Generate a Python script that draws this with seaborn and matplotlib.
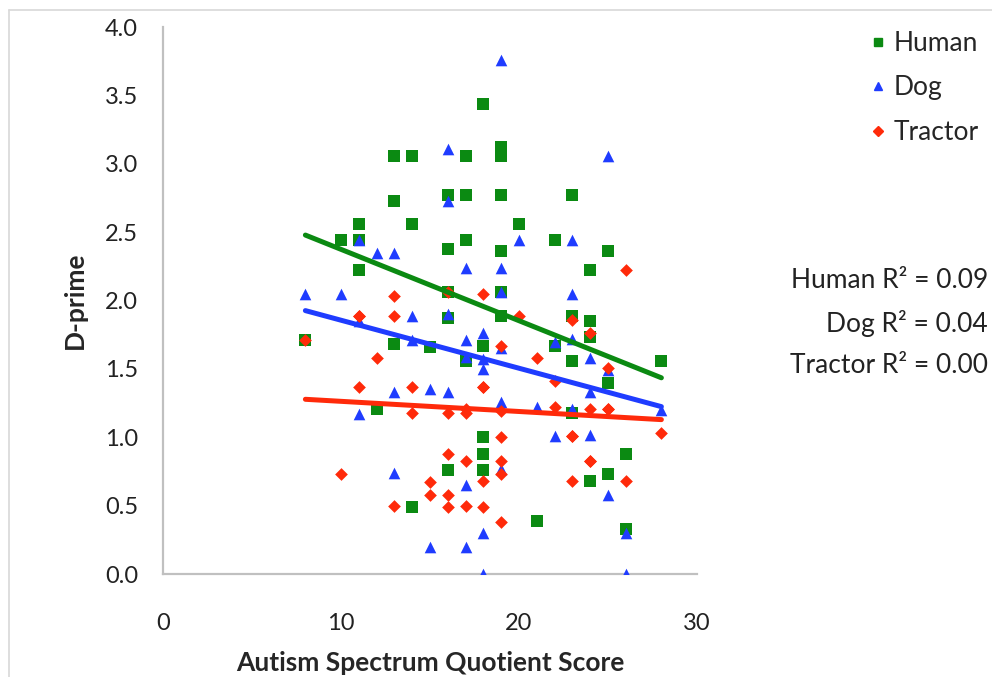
import pandas as pd
import seaborn as sns
import matplotlib.pyplot as plt
from matplotlib.lines import Line2D

# AQ score (x) and d-prime (y) per stimulus category
# (some points sit exactly on top of one another)
human_aq = [8, 10, 11, 11, 11, 12, 13, 13, 13, 14, 14, 14, 15,
            16, 16, 16, 16, 16, 17, 17, 17, 17, 18, 18, 18, 18, 18,
            19, 19, 19, 19, 19, 19, 20, 21, 22, 22, 23, 23, 23, 23,
            24, 24, 24, 24, 25, 25, 25, 26, 26, 28]
human_dprime = [1.71, 2.44, 2.56, 2.44, 2.22, 1.21, 3.06, 2.73, 1.68, 3.06, 2.56, 0.49, 1.66,
                2.77, 2.38, 2.06, 1.87, 0.76, 3.06, 2.77, 2.44, 1.56, 3.44, 1.67, 1.00, 0.88, 0.76,
                3.12, 3.06, 2.77, 2.36, 2.06, 1.89, 2.56, 0.39, 2.44, 1.67, 2.77, 1.89, 1.56, 1.18,
                2.22, 1.85, 1.73, 0.68, 2.36, 1.40, 0.73, 0.88, 0.33, 1.56]

dog_aq = [8, 10, 11, 11, 11, 12, 13, 13, 13, 14, 14, 15, 15,
          16, 16, 16, 16, 17, 17, 17, 17, 17, 18, 18, 18, 18, 18,
          19, 19, 19, 19, 19, 19, 20, 21, 22, 22, 23, 23, 23, 23,
          24, 24, 24, 25, 25, 25, 26, 26, 28]
dog_dprime = [2.05, 2.05, 2.44, 1.85, 1.17, 2.35, 2.35, 1.33, 0.74, 1.89, 1.71, 1.35, 0.20,
              3.11, 2.73, 1.90, 1.33, 2.24, 1.71, 1.59, 0.65, 0.20, 1.76, 1.57, 1.50, 0.30, 0.00,
              3.76, 2.24, 2.06, 1.65, 1.26, 0.77, 2.44, 1.22, 1.70, 1.01, 2.44, 2.05, 1.72, 1.21,
              1.58, 1.33, 1.02, 3.06, 1.49, 0.58, 0.30, 0.00, 1.20]

tractor_aq = [8, 10, 11, 11, 11, 12, 13, 13, 13, 14, 14, 15, 15,
              16, 16, 16, 16, 16, 17, 17, 17, 17, 18, 18, 18, 18, 18,
              19, 19, 19, 19, 19, 19, 20, 21, 22, 22, 23, 23, 23, 23,
              24, 24, 24, 24, 25, 25, 25, 26, 26, 28]
tractor_dprime = [1.71, 0.73, 1.89, 1.89, 1.37, 1.58, 2.03, 1.89, 0.50, 1.37, 1.18, 0.67, 0.58,
                  2.06, 1.18, 0.88, 0.58, 0.49, 1.21, 1.18, 0.83, 0.50, 2.05, 1.37, 1.37, 0.68, 0.49,
                  1.67, 1.19, 1.00, 0.83, 0.73, 0.38, 1.89, 1.58, 1.41, 1.22, 1.86, 1.01, 1.01, 0.68,
                  1.76, 1.21, 0.83, 0.83, 1.51, 1.21, 1.21, 2.22, 0.68, 1.03]

series_names = ['Human', 'Dog', 'Tractor']
r2_labels = ['Human R\u00b2 = 0.09', 'Dog R\u00b2 = 0.04', 'Tractor R\u00b2 = 0.00']
colors = ['#0b8a12', '#1f3cff', '#ff2a0a']
markers = ['s', '^', 'D']
marker_sizes = [64, 70, 42]

y_ticks = [0.0, 0.5, 1.0, 1.5, 2.0, 2.5, 3.0, 3.5, 4.0]
x_ticks = [0, 10, 20, 30]

sns.set_style('white')
plt.rcParams['font.family'] = ['Lato', 'DejaVu Sans']

data = [(human_aq, human_dprime), (dog_aq, dog_dprime), (tractor_aq, tractor_dprime)]

fig = plt.figure(figsize=(9.92, 6.77), dpi=100)
ax = fig.add_axes([0.1643, 0.1521, 0.5383, 0.808])

for i, (xs, ys) in enumerate(data):
    df = pd.DataFrame({'aq': xs, 'dprime': ys})
    sns.regplot(data=df, x='aq', y='dprime', ax=ax, ci=None, truncate=True,
                marker=markers[i], color=colors[i],
                scatter_kws={'s': marker_sizes[i], 'linewidths': 0, 'alpha': 1, 'zorder': 2 + i},
                line_kws={'linewidth': 3.6, 'zorder': 10 + i})

ax.set_xlim(0, 30)
ax.set_ylim(0, 4.0)
ax.set_xticks(x_ticks)
ax.set_yticks(y_ticks)
ax.set_yticklabels([f'{v:.1f}' for v in y_ticks])
ax.tick_params(axis='both', labelsize=17, colors='#222222', length=6, width=1.2,
               direction='out')
ax.tick_params(axis='x', direction='inout', length=12, pad=22)
ax.tick_params(axis='y', pad=12)
for t in ax.get_xticklines() + ax.get_yticklines():
    t.set_color('#b8b8b8')

ax.set_xlabel('Autism Spectrum Quotient Score', fontsize=19, fontweight='bold', labelpad=12)
ax.set_ylabel('D-prime', fontsize=19, fontweight='bold', labelpad=13)

for side in ['top', 'right']:
    ax.spines[side].set_visible(False)
for side in ['left', 'bottom']:
    ax.spines[side].set_color('#c0c0c0')
    ax.spines[side].set_linewidth(1.6)
    ax.spines[side].set_clip_on(False)

handles = [Line2D([], [], linestyle='none', marker=markers[i], color=colors[i],
                  markersize=6 if markers[i] != 'D' else 4.6)
           for i in range(3)]
fig.legend(handles, series_names, loc='upper left', bbox_to_anchor=(0.864, 0.97),
           frameon=False, fontsize=19, handletextpad=0.2, labelspacing=0.74,
           handlelength=0.8, borderaxespad=0)

for i, lab in enumerate(r2_labels):
    fig.text(0.996, 1 - (280 + 43 * i) / 677, lab, ha='right', va='center',
             fontsize=19, color='#222222')

# faint chart-area border at the left and top edges
fig.add_artist(Line2D([0.009, 0.009], [0, 0.985], color='#d8d8d8', lw=1.2))
fig.add_artist(Line2D([0.009, 1.0], [0.985, 0.985], color='#d8d8d8', lw=1.2))

plt.savefig('out.png', dpi=100)
